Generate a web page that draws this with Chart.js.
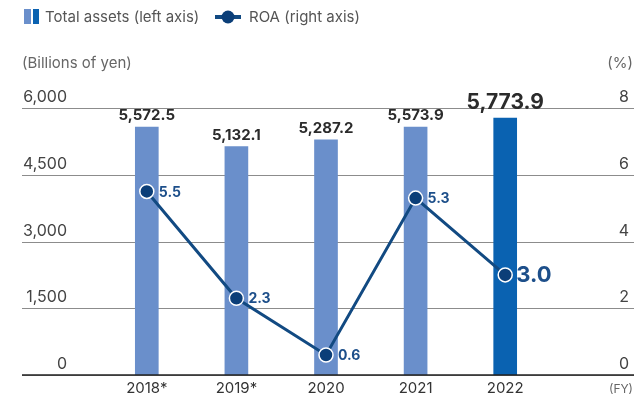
<!DOCTYPE html>
<html>
<head>
<meta charset="utf-8">
<script src="https://cdn.jsdelivr.net/npm/chart.js@4.4.1/dist/chart.umd.min.js"></script>
<style>
  html, body { margin: 0; padding: 0; background: #fff; }
  #wrap { width: 634px; height: 402px; position: relative; }
</style>
</head>
<body>
<div id="wrap"><canvas id="grafico-roa"></canvas></div>
<script>
const anos = ['2018*', '2019*', '2020', '2021', '2022'];
const ativos = [5572.5, 5132.1, 5287.2, 5573.9, 5773.9];
const roa = [5.5, 2.3, 0.6, 5.3, 3.0];
const ticksEsq = [0, 1500, 3000, 4500, 6000];
const ticksDir = [0, 2, 4, 6, 8];

const corClara = '#6a8fcb';
const corEscura = '#0a62b1';
const corLinha = '#124a82';
const corPonto = '#0b3e78';
const corRoaTxt = '#1d4f8a';
const fonte = 'Inter, Roboto, sans-serif';

function fmt(v) {
    return v.toLocaleString('en-US', { minimumFractionDigits: 1, maximumFractionDigits: 1 });
}

// gridlines, axis text, legend and value labels
const extras = {
    id: 'extras',
    beforeDatasetsDraw(chart) {
        const c = chart.ctx;
        const y = chart.scales.y;
        c.save();
        ticksEsq.forEach(function (t) {
            const py = Math.round(y.getPixelForValue(t)) + 0.5;
            c.beginPath();
            c.moveTo(22, py);
            c.lineTo(634, py);
            c.lineWidth = 1;
            c.strokeStyle = '#8c8c8c';
            c.stroke();
        });
        c.restore();
    },
    afterDatasetsDraw(chart) {
        const c = chart.ctx;
        const y = chart.scales.y;
        const y1 = chart.scales.y1;
        const x = chart.scales.x;
        c.save();

        // baseline
        const by = y.getPixelForValue(0);
        c.beginPath();
        c.moveTo(22, by);
        c.lineTo(634, by);
        c.lineWidth = 1.5;
        c.strokeStyle = '#222';
        c.stroke();

        // left ticks
        c.font = '16px ' + fonte;
        c.fillStyle = '#444';
        c.textBaseline = 'alphabetic';
        c.textAlign = 'right';
        ticksEsq.forEach(function (t) {
            c.fillText(t === 0 ? '0' : t.toLocaleString('en-US'), 67, y.getPixelForValue(t) - 6);
        });
        // right ticks
        ticksDir.forEach(function (t) {
            c.fillText(String(t), 629, y1.getPixelForValue(t) - 6);
        });

        // units
        c.font = '15px ' + fonte;
        c.fillStyle = '#666';
        c.textAlign = 'left';
        c.textBaseline = 'middle';
        c.fillText('(Billions of yen)', 22, 63);
        c.textAlign = 'right';
        c.fillText('(%)', 633, 63);
        c.font = '12px ' + fonte;
        c.fillText('(FY)', 633, 389);

        // x labels
        c.font = '15px ' + fonte;
        c.fillStyle = '#333';
        c.textAlign = 'center';
        anos.forEach(function (a, i) {
            c.fillText(a, x.getPixelForValue(i), 388);
        });

        // bar values
        const barras = chart.getDatasetMeta(0).data;
        c.fillStyle = '#2b2b2b';
        c.textBaseline = 'alphabetic';
        barras.forEach(function (b, i) {
            const ultimo = i === barras.length - 1;
            c.font = 'bold ' + (ultimo ? 21 : 15) + 'px ' + fonte;
            c.fillText(fmt(ativos[i]), b.x, b.y - (ultimo ? 9 : 7));
        });

        // ROA values
        const pontos = chart.getDatasetMeta(1).data;
        c.fillStyle = corRoaTxt;
        c.textAlign = 'left';
        c.textBaseline = 'middle';
        pontos.forEach(function (p, i) {
            const ultimo = i === pontos.length - 1;
            c.font = 'bold ' + (ultimo ? 22 : 14) + 'px ' + fonte;
            c.fillText(roa[i].toFixed(1), p.x + (ultimo ? 11 : 12), p.y + 1);
        });

        // legend
        c.fillStyle = corClara;
        c.fillRect(24, 9, 7, 15);
        c.fillStyle = corEscura;
        c.fillRect(33, 9, 6, 15);
        c.font = '15px ' + fonte;
        c.fillStyle = '#555';
        c.textAlign = 'left';
        c.fillText('Total assets (left axis)', 45, 17);
        c.fillStyle = corLinha;
        c.fillRect(215, 15, 7, 4);
        c.fillRect(234, 15, 7, 4);
        c.beginPath();
        c.arc(228, 17, 6.5, 0, Math.PI * 2);
        c.fillStyle = corPonto;
        c.fill();
        c.fillStyle = '#555';
        c.fillText('ROA (right axis)', 249, 17);

        c.restore();
    }
};

const ctx = document.getElementById('grafico-roa').getContext('2d');
const grafico = new Chart(ctx, {
    data: {
        labels: anos,
        datasets: [{
            type: 'bar',
            label: 'Total assets (left axis)',
            data: ativos,
            yAxisID: 'y',
            backgroundColor: ativos.map(function (v, i) { return i === ativos.length - 1 ? corEscura : corClara; }),
            barThickness: 23,
            order: 2
        }, {
            type: 'line',
            label: 'ROA (right axis)',
            data: roa,
            yAxisID: 'y1',
            borderColor: corLinha,
            borderWidth: 3,
            pointRadius: 7,
            pointBackgroundColor: corPonto,
            pointBorderColor: '#ffffff',
            pointBorderWidth: 1.5,
            tension: 0,
            order: 1
        }]
    },
    options: {
        responsive: true,
        maintainAspectRatio: false,
        animation: false,
        layout: { padding: { left: 102, right: 84, top: 108, bottom: 27 } },
        plugins: {
            legend: { display: false },
            tooltip: { enabled: false }
        },
        scales: {
            x: { display: false },
            y: { display: false, min: 0, max: 6000 },
            y1: { display: false, min: 0, max: 8, position: 'right' }
        }
    },
    plugins: [extras]
});
</script>
</body>
</html>
